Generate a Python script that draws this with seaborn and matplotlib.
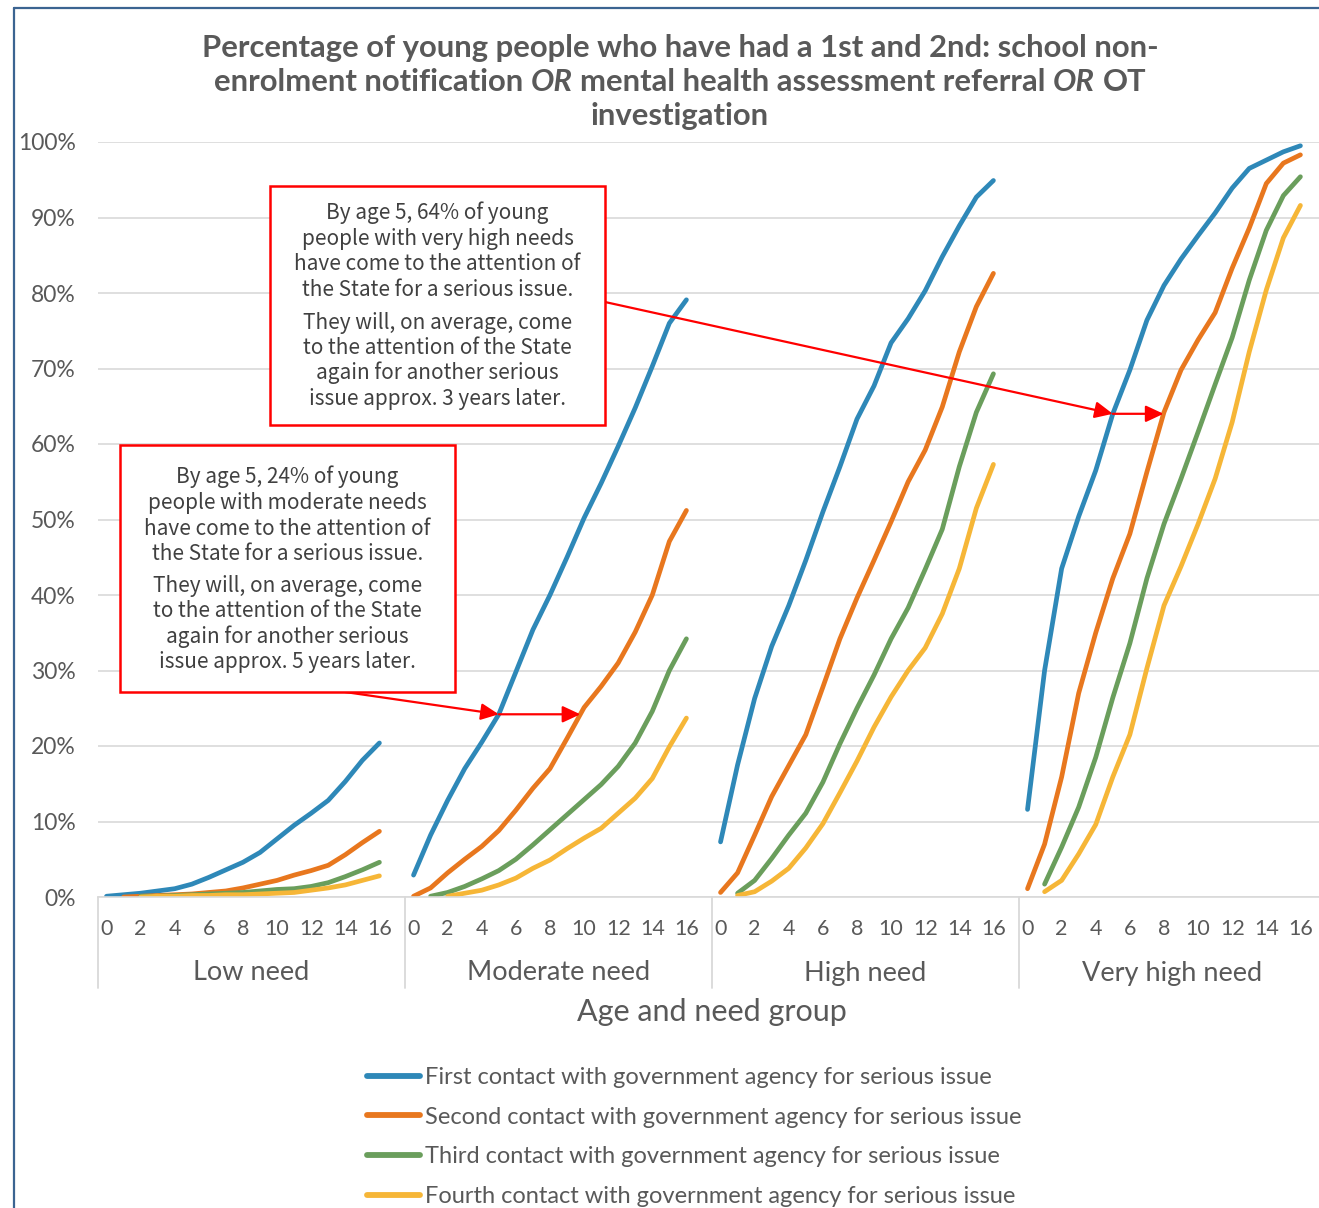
import numpy as np
import pandas as pd
import seaborn as sns
import matplotlib
matplotlib.use("Agg")
import matplotlib.pyplot as plt
from matplotlib.lines import Line2D
from matplotlib.patches import Rectangle
from matplotlib.transforms import blended_transform_factory

nan = np.nan

# ---- data ---------------------------------------------------------------
groups = ["Low need", "Moderate need", "High need", "Very high need"]
ages = list(range(17))          # ages 0..16 ; each group reserves 18 category slots
slots_per_group = 18
tick_ages = list(range(0, 17, 2))

series_names = [
    "First contact with government agency for serious issue",
    "Second contact with government agency for serious issue",
    "Third contact with government agency for serious issue",
    "Fourth contact with government agency for serious issue",
]

first_low = [0.1, 0.3, 0.5, 0.8, 1.1, 1.7, 2.6, 3.6, 4.6, 5.9, 7.7, 9.5, 11.1, 12.8, 15.3, 18.1, 20.4]
second_low = [nan, 0.0, 0.1, 0.2, 0.3, 0.4, 0.6, 0.8, 1.2, 1.7, 2.2, 2.9, 3.5, 4.2, 5.6, 7.2, 8.7]
third_low = [nan, nan, 0.1, 0.1, 0.2, 0.3, 0.4, 0.5, 0.6, 0.8, 1.0, 1.1, 1.4, 1.9, 2.7, 3.6, 4.6]
fourth_low = [nan, nan, 0.0, 0.1, 0.1, 0.2, 0.2, 0.3, 0.3, 0.4, 0.5, 0.6, 0.9, 1.2, 1.6, 2.2, 2.8]

first_mod = [2.9, 8.2, 12.8, 17.0, 20.5, 24.2, 29.8, 35.4, 40.0, 45.0, 50.2, 54.8, 59.7, 64.8, 70.3, 76.0, 79.1]
second_mod = [0.1, 1.2, 3.2, 5.0, 6.7, 8.8, 11.5, 14.4, 17.0, 21.0, 25.1, 27.9, 31.0, 35.1, 40.0, 47.1, 51.2]
third_mod = [nan, 0.1, 0.6, 1.4, 2.4, 3.5, 5.0, 6.9, 8.9, 10.9, 12.9, 14.9, 17.3, 20.4, 24.6, 30.0, 34.2]
fourth_mod = [nan, nan, 0.1, 0.5, 0.9, 1.6, 2.5, 3.8, 4.9, 6.4, 7.8, 9.1, 11.1, 13.1, 15.7, 19.9, 23.7]

first_high = [7.3, 17.5, 26.3, 33.2, 38.6, 44.6, 51.0, 57.0, 63.3, 67.7, 73.4, 76.6, 80.3, 84.8, 88.9, 92.7, 94.9]
second_high = [0.6, 3.2, 8.2, 13.3, 17.4, 21.5, 27.8, 34.2, 39.6, 44.6, 49.7, 55.0, 59.2, 64.9, 72.2, 78.2, 82.6]
third_high = [nan, 0.5, 2.2, 5.1, 8.2, 11.1, 15.2, 20.3, 25.0, 29.4, 34.2, 38.3, 43.4, 48.7, 57.0, 64.2, 69.3]
fourth_high = [nan, 0.2, 0.7, 2.1, 3.8, 6.5, 9.7, 13.8, 18.0, 22.5, 26.5, 30.0, 33.0, 37.5, 43.5, 51.5, 57.3]

first_vhigh = [11.6, 30.0, 43.5, 50.4, 56.5, 64.0, 69.8, 76.4, 81.0, 84.5, 87.6, 90.6, 93.9, 96.5, 97.6, 98.7, 99.5]
second_vhigh = [1.1, 7.0, 15.9, 27.0, 35.0, 42.2, 48.1, 56.3, 64.2, 69.8, 73.8, 77.4, 83.3, 88.6, 94.5, 97.2, 98.3]
third_vhigh = [nan, 1.7, 6.6, 11.9, 18.5, 26.4, 33.6, 42.2, 49.4, 55.4, 61.6, 67.9, 74.1, 81.7, 88.3, 92.9, 95.4]
fourth_vhigh = [nan, 0.7, 2.2, 5.7, 9.6, 15.9, 21.5, 30.3, 38.6, 43.8, 49.4, 55.4, 62.9, 72.2, 80.4, 87.3, 91.6]

values = {
    "Low need": [first_low, second_low, third_low, fourth_low],
    "Moderate need": [first_mod, second_mod, third_mod, fourth_mod],
    "High need": [first_high, second_high, third_high, fourth_high],
    "Very high need": [first_vhigh, second_vhigh, third_vhigh, fourth_vhigh],
}

# long table: one row per (group, series, age)
rows = []
for gi, g in enumerate(groups):
    for si, s in enumerate(series_names):
        for a, v in zip(ages, values[g][si]):
            if not np.isnan(v):
                rows.append({"pos": gi * slots_per_group + a, "value": v,
                             "series": s, "segment": f"{g}|{s}"})
df = pd.DataFrame(rows)

palette = ["#2E88B8", "#E8771E", "#6A9E5C", "#F6B637"]
text_grey = "#595959"
grid_grey = "#D9D9D9"

# ---- figure -------------------------------------------------------------
sns.set_theme(style="white")
plt.rcParams["font.family"] = ["Lato", "DejaVu Sans"]
plt.rcParams["lines.solid_capstyle"] = "round"
plt.rcParams["lines.solid_joinstyle"] = "round"

W, H = 1319, 1208
fig = plt.figure(figsize=(W / 100, H / 100), dpi=100)
fig.patch.set_facecolor("white")
ax = fig.add_axes([98 / W, 1 - 897 / H, 1228 / W, 755 / H])

sns.lineplot(data=df, x="pos", y="value", hue="series", hue_order=series_names,
             units="segment", estimator=None, palette=palette,
             linewidth=3.4, ax=ax)

handles, labels = ax.get_legend_handles_labels()
ax.get_legend().remove()

ax.set_xlim(-0.5, 4 * slots_per_group - 0.5)
ax.set_ylim(0, 100)
ax.set_yticks(range(0, 101, 10))
ax.set_yticklabels([f"{v}%" for v in range(0, 101, 10)])
ax.yaxis.grid(True, color=grid_grey, linewidth=1.2)
ax.set_axisbelow(True)

xt = [gi * slots_per_group + a for gi in range(len(groups)) for a in tick_ages]
ax.set_xticks(xt)
ax.set_xticklabels([str(a) for _ in groups for a in tick_ages])
ax.tick_params(axis="x", length=0, pad=16, labelsize=15.5, labelcolor=text_grey)
ax.tick_params(axis="y", length=0, pad=16, labelsize=16.5, labelcolor=text_grey)
ax.set_xlabel("")
ax.set_ylabel("")
for side in ("left", "right", "top"):
    ax.spines[side].set_visible(False)
ax.spines["bottom"].set_color(grid_grey)
ax.spines["bottom"].set_linewidth(1.2)

# group labels and separators of the two-level category axis
tr_fig_y = blended_transform_factory(ax.transData, fig.transFigure)
tr_ax_y = blended_transform_factory(ax.transData, ax.transAxes)
for gi, g in enumerate(groups):
    ax.text(gi * slots_per_group + 8.5, 1 - 973 / H, g, transform=tr_fig_y,
            ha="center", va="center", fontsize=19.5, color=text_grey)
for gi in range(len(groups) + 1):
    xb = gi * slots_per_group - 0.5
    ax.plot([xb, xb], [0, -(988 - 897) / 755], transform=tr_ax_y,
            color=grid_grey, lw=1.3, clip_on=False)

fig.text(712 / W, 1 - 1012 / H, "Age and need group", ha="center", va="center",
         fontsize=22, color=text_grey)

# ---- title with italic "OR" --------------------------------------------
renderer = fig.canvas.get_renderer()
title_kw = dict(fontsize=22.3, fontweight="bold", color=text_grey)


def text_width(s, style="normal"):
    t = fig.text(0, 0, s, fontstyle=style, **title_kw)
    w = t.get_window_extent(renderer).width
    t.remove()
    return w


def centered_row(parts, cx, base_y):
    gap = text_width("x x") - text_width("xx")
    widths = [text_width(s, st) for s, st in parts]
    total = sum(widths) + gap * (len(parts) - 1)
    x = cx - total / 2
    for (s, st), w in zip(parts, widths):
        fig.text(x / W, 1 - base_y / H, s, fontstyle=st, ha="left",
                 va="baseline", **title_kw)
        x += w + gap


centered_row([("Percentage of young people who have had a 1st and 2nd: school non-", "normal")], 680, 57)
centered_row([("enrolment notification", "normal"), ("OR", "italic"),
              ("mental health assessment referral", "normal"), ("OR", "italic"),
              ("OT", "normal")], 680, 91)
centered_row([("investigation", "normal")], 680, 125)

# ---- legend -------------------------------------------------------------
for h in handles:
    h.set_linewidth(4.2)
fig.legend(handles, labels, loc="upper left",
           bbox_to_anchor=(367 / W, 1 - 1067 / H), frameon=False,
           fontsize=17, labelcolor=text_grey, handlelength=2.25,
           handletextpad=0.2, labelspacing=0.79, borderpad=0, borderaxespad=0)

# ---- call-out boxes and arrows -------------------------------------------
note_kw = dict(fontsize=15, color="#404040", ha="center", va="baseline",
               family=["Noto Sans CJK JP", "DejaVu Sans"])

box_lines_1 = ["By age 5, 64% of young", "people with very high needs",
               "have come to the attention of", "the State for a serious issue.",
               "They will, on average, come", "to the attention of the State",
               "again for another serious", "issue approx. 3 years later."]
box_lines_2 = ["By age 5, 24% of young", "people with moderate needs",
               "have come to the attention of", "the State for a serious issue.",
               "They will, on average, come", "to the attention of the State",
               "again for another serious", "issue approx. 5 years later."]


def callout(x0, y0, x1, y1, lines, first_base, second_base):
    fig.add_artist(Rectangle((x0 / W, 1 - y1 / H), (x1 - x0) / W, (y1 - y0) / H,
                             transform=fig.transFigure, facecolor="white",
                             edgecolor="#FF0000", linewidth=1.8, zorder=5))
    cx = (x0 + x1) / 2
    for i, ln in enumerate(lines):
        base = (first_base if i < 4 else second_base) + 25.5 * (i % 4)
        fig.text(cx / W, 1 - base / H, ln, zorder=6, **note_kw)


callout(270, 186, 605, 425, box_lines_1, 219.5, 328.5)
callout(120, 445, 455, 692, box_lines_2, 483.5, 591.5)

arrow_kw = dict(arrowstyle="-|>,head_length=0.6,head_width=0.28",
                color="#FF0000", lw=1.6, mutation_scale=18,
                shrinkA=0, shrinkB=0)


def gap_arrows(group, start_px):
    gi = groups.index(group)
    first = values[group][0]
    second = np.array(values[group][1], dtype=float)
    target = first[5]
    valid = ~np.isnan(second)
    age_second = np.interp(target, second[valid], np.array(ages)[valid])
    p1 = (gi * slots_per_group + 5, target)
    p2 = (gi * slots_per_group + age_second, target)
    ax.annotate("", xy=p1, xycoords="data", xytext=start_px,
                textcoords="figure pixels", arrowprops=arrow_kw,
                annotation_clip=False)
    ax.annotate("", xy=p2, xycoords="data", xytext=p1, textcoords="data",
                arrowprops=arrow_kw)


gap_arrows("Very high need", (605, H - 302))
gap_arrows("Moderate need", (345, H - 692))

# ---- outer chart frame --------------------------------------------------
frame_col = "#3B6491"
fig.add_artist(Line2D([14 / W, 14 / W], [0, 1 - 8 / H], transform=fig.transFigure,
                      color=frame_col, lw=1.6))
fig.add_artist(Line2D([14 / W, 1], [1 - 8 / H, 1 - 8 / H], transform=fig.transFigure,
                      color=frame_col, lw=1.6))

fig.savefig("out.png", dpi=100, facecolor="white")
